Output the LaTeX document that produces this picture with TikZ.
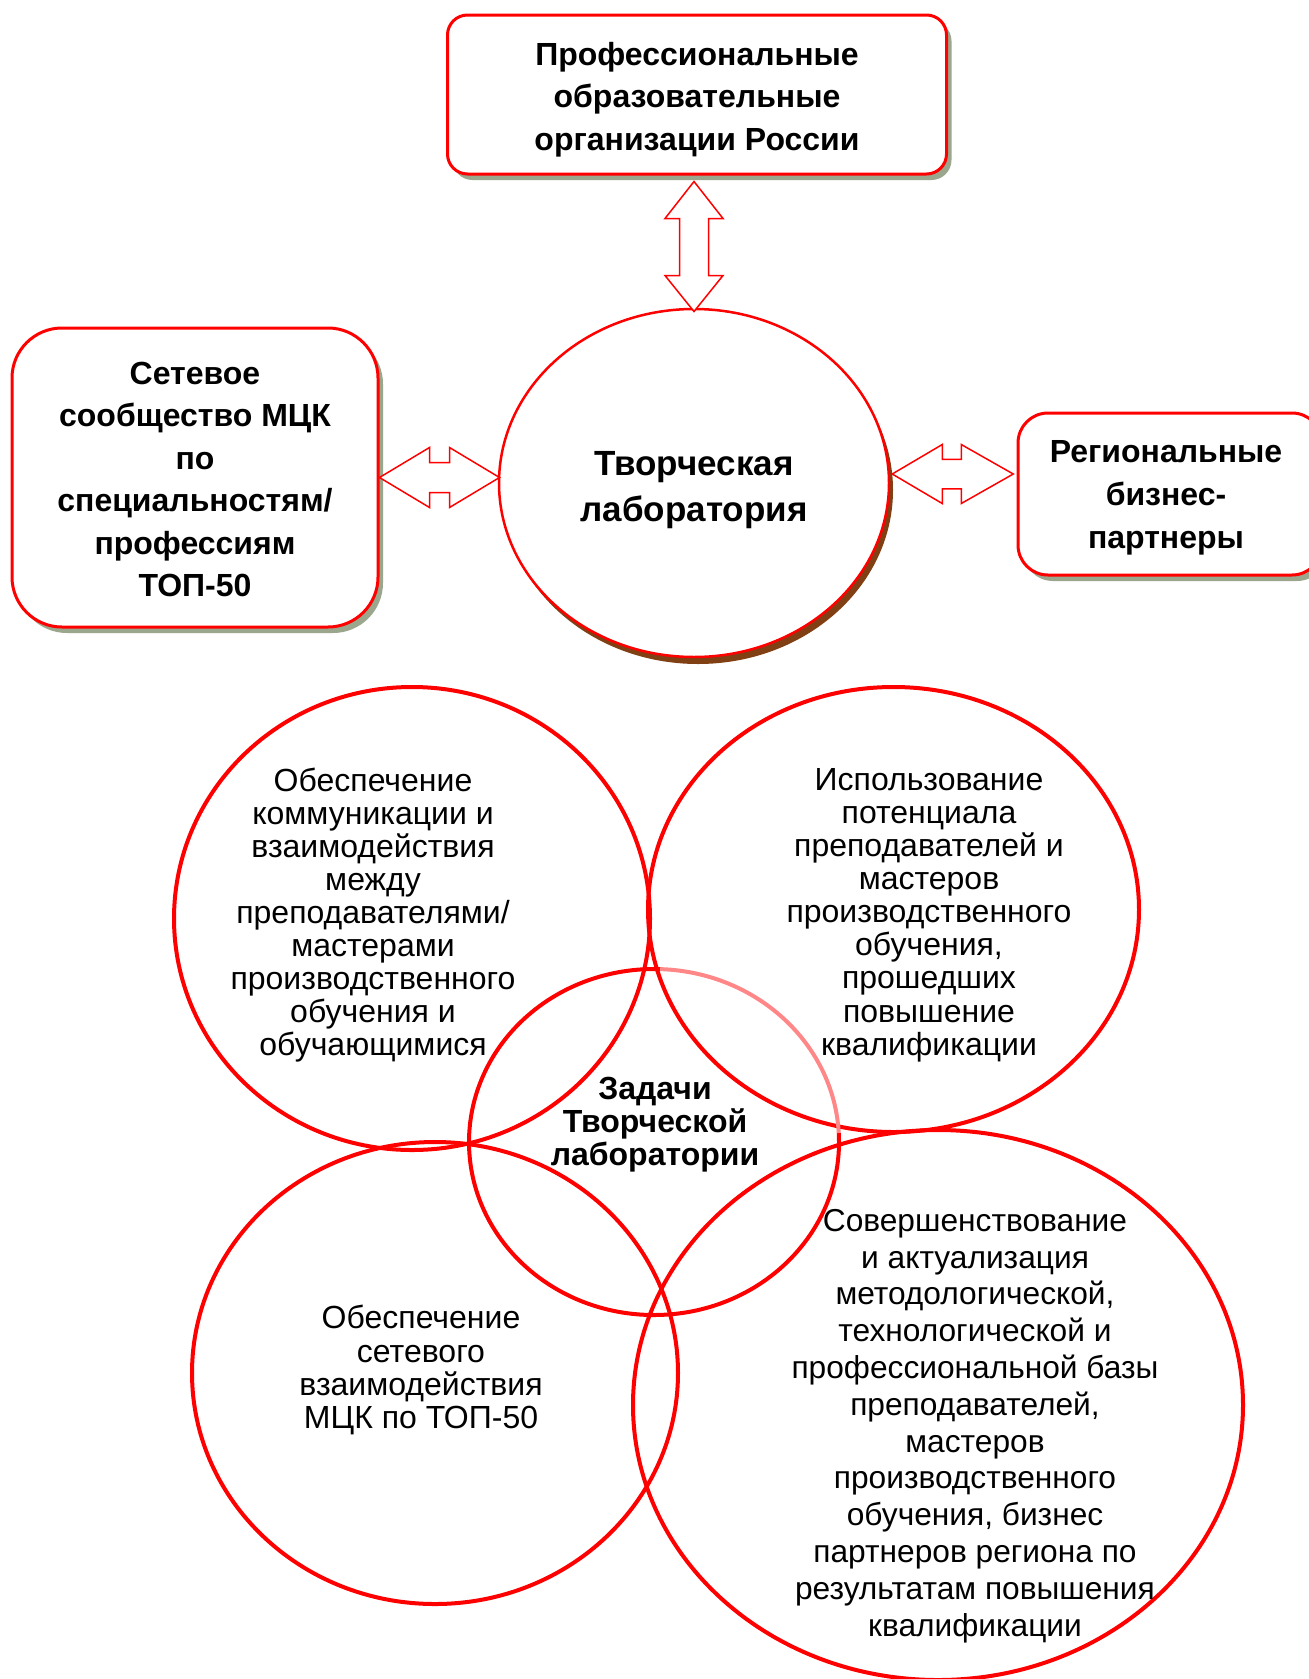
\documentclass[tikz,border=0pt]{standalone}
\usepackage{fontspec}
\setmainfont{Liberation Sans}
\usetikzlibrary{shapes.geometric,shadows,calc}
\definecolor{shadowgreen}{RGB}{155,167,140}
\definecolor{shadowbrown}{RGB}{128,64,20}
\definecolor{lightred}{RGB}{255,135,135}
\begin{document}
\begin{tikzpicture}[x=1pt,y=-1pt,
  boxstyle/.style={draw=red, line width=3pt, fill=white, inner sep=0pt,
     drop shadow={shadow xshift=5pt, shadow yshift=-6pt, fill=shadowgreen, opacity=1}},
  boxtext/.style={align=center, inner sep=0pt, font=\fontsize{32}{42.4}\selectfont\bfseries},
  blockarrow/.style={draw=red, line width=1.5pt, fill=white, line join=miter},
  taskcircle/.style={ellipse, draw=red, line width=4pt, inner sep=0pt},
  tasktext/.style={align=center, inner sep=0pt, font=\fontsize{32}{33.1}\selectfont},
]
\useasboundingbox (0,0) rectangle (1309,1679);
\fill[white] (0,0) rectangle (1309,1679);
\clip (0,0) rectangle (1309,1679);

% upper part
\node[boxstyle, rounded corners=20pt, minimum width=499pt, minimum height=159pt] (top) at (697,94.5) {};
\node[boxtext] (toptext) at ($(top.center)+(0,5)$)
  {Профессиональные\\образовательные\\организации России};
\node[boxstyle, rounded corners=50pt, minimum width=366pt, minimum height=299pt] (net) at (195,477.5) {};
\node[boxtext] (nettext) at ($(net.center)+(0,2)$)
  {Сетевое\\сообщество МЦК\\по\\специальностям/\\профессиям\\ТОП-50};
\node[boxstyle, rounded corners=30pt, minimum width=304pt, minimum height=162pt] (reg) at (1170,494) {};
\node[boxtext, font=\fontsize{32}{42.8}\selectfont\bfseries] (regtext) at ($(reg.center)+(-4,4)$)
  {Региональные\\бизнес-\\партнеры};
\node[ellipse, draw=red, line width=2.5pt, fill=white, minimum width=390pt, minimum height=348pt,
  inner sep=0pt,
  drop shadow={shadow xshift=4pt, shadow yshift=-7pt, fill=shadowbrown, opacity=1}] (lab) at (694,483) {};
\node[align=center, inner sep=0pt, font=\fontsize{35}{46}\selectfont\bfseries] (labtext)
  at ($(lab.center)+(0,7.5)$) {Творческая\\лаборатория};

% double block arrows
\draw[blockarrow] ($(top.south)+(-3,6)$) -- ++(29,37) -- ++(-14.5,0) -- ++(0,57) -- ++(14.5,0)
  -- ++(-29,36) -- ++(-29,-36) -- ++(14.5,0) -- ++(0,-57) -- ++(-14.5,0) -- cycle;
\draw[blockarrow] (net.east) -- ++(50,-30) -- ++(0,15) -- ++(20,0) -- ++(0,-15) -- ++(50,30)
  -- ++(-50,30) -- ++(0,-15) -- ++(-20,0) -- ++(0,15) -- cycle;
\draw[blockarrow] ($(lab.east)+(2,-9)$) -- ++(50,-29.5) -- ++(0,14.75) -- ++(19,0) -- ++(0,-14.75)
  -- ++(52,29.5) -- ++(-52,29.5) -- ++(0,-14.75) -- ++(-19,0) -- ++(0,14.75) -- cycle;

% task circles
\node[taskcircle, minimum width=476pt, minimum height=463pt] (tA) at (412,918.5) {};
\node[taskcircle, minimum width=491pt, minimum height=445pt] (tB) at (893.5,909.5) {};
\node[ellipse, inner sep=0pt, minimum width=370pt, minimum height=346pt] (tC) at (654,1142) {};
\draw[red, line width=4pt] ($(tC.center)+({185*cos(-3)},{173*sin(-3)})$)
  arc[start angle=-3, end angle=272, x radius=185, y radius=173];
\draw[lightred, line width=4pt] ($(tC.center)+({185*cos(-88)},{173*sin(-88)})$)
  arc[start angle=-88, end angle=-3, x radius=185, y radius=173];
\node[taskcircle, minimum width=486pt, minimum height=462pt] (tD) at (435,1373) {};
\node[taskcircle, minimum width=610pt, minimum height=550pt] (tE) at (938,1405) {};

% task texts
\node[tasktext] (xA) at (373,915) {Обеспечение\\коммуникации и\\взаимодействия\\между\\преподавателями/\\мастерами\\производственного\\обучения и\\обучающимися};
\node[tasktext] (xB) at (929,915) {Использование\\потенциала\\преподавателей и\\мастеров\\производственного\\обучения,\\прошедших\\повышение\\квалификации};
\node[tasktext] (xD) at (421,1370) {Обеспечение\\сетевого\\взаимодействия\\МЦК по ТОП-50};
\node[tasktext, font=\fontsize{32}{33}\selectfont\bfseries] (xC) at (655,1125) {Задачи\\Творческой\\лаборатории};
\node[tasktext, font=\fontsize{31.7}{36.8}\selectfont] (xE) at (975,1426) {Совершенствование\\и актуализация\\методологической,\\технологической и\\профессиональной базы\\преподавателей,\\мастеров\\производственного\\обучения, бизнес\\партнеров региона по\\результатам повышения\\квалификации};
\end{tikzpicture}
\end{document}
